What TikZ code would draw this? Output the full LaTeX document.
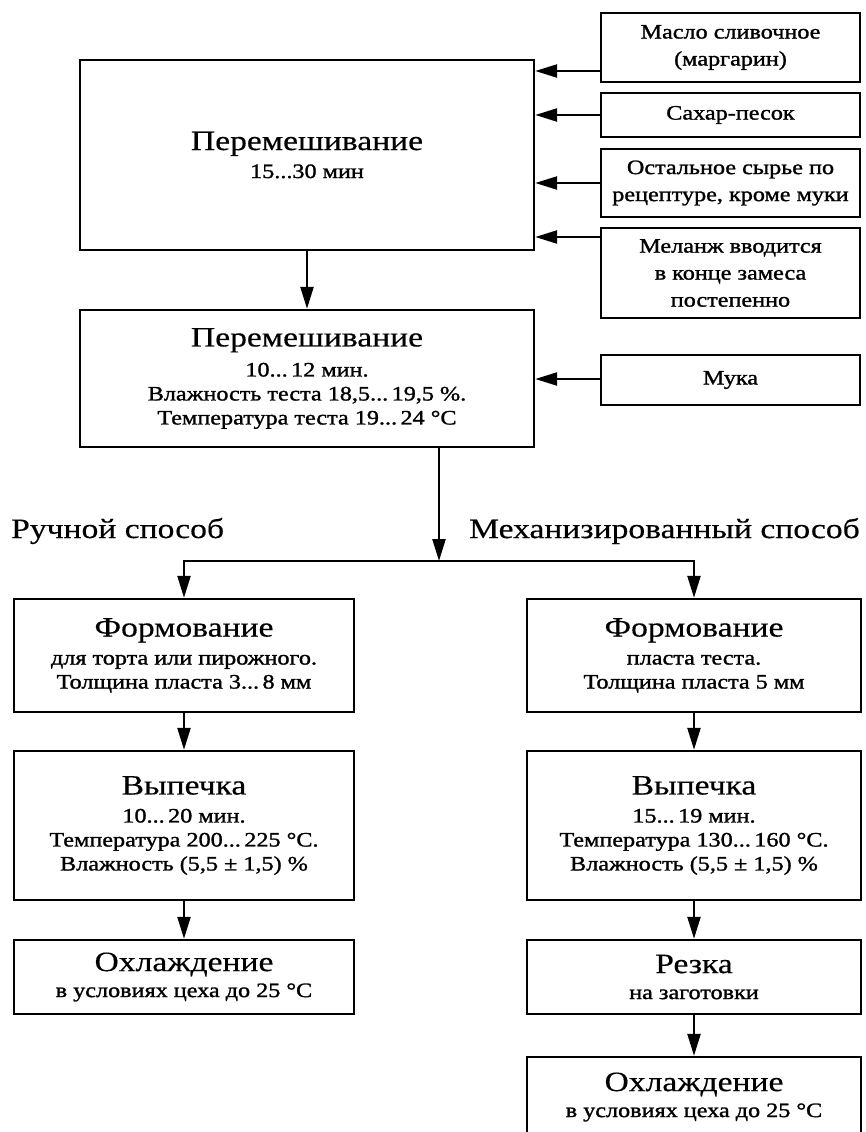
\documentclass[tikz,border=0pt]{standalone}
\usepackage{fontspec}
\setmainfont{Liberation Serif}[FakeStretch=1.2, FakeBold=0.4]
\newfontfamily\smallfont{Liberation Serif}[FakeStretch=1.18, FakeBold=1.3]
\usetikzlibrary{arrows.meta}
\newcommand\ttl[1]{{\rmfamily\fontsize{28}{30}\selectfont #1}}
\begin{document}
\begin{tikzpicture}[x=1pt,y=-1pt,
  box/.style={draw, line width=2.4pt, fill=white, inner sep=0pt, align=center,
              font=\smallfont\fontsize{20.5}{24}\selectfont},
  inbox/.style={box, minimum width=259pt, font=\smallfont\fontsize{20.5}{27}\selectfont},
  arr/.style={line width=2.4pt, -{Triangle[length=22pt,width=13pt]}},
  lbl/.style={inner sep=0pt, font=\fontsize{28}{30}\selectfont}]
\useasboundingbox (0,0) rectangle (866,1132);
% inputs
\node[inbox, minimum height=69pt] (maslo) at (730.5,47.5) {Масло сливочное\\(маргарин)};
\node[inbox, minimum height=44pt] (sahar) at (730.5,115) {Сахар-песок};
\node[inbox, minimum height=68pt] (ost) at (730.5,183) {Остальное сырье по\\рецептуре, кроме муки};
\node[inbox, minimum height=90pt] (mel) at (730.5,273) {Меланж вводится\\в конце замеса\\постепенно};
\node[inbox, minimum height=50pt] (muka) at (730.5,380) {Мука};
% mixing
\node[box, minimum width=454pt, minimum height=190pt] (b1) at (307,155)
  {\ttl{Перемешивание}\\[4pt]15...30 мин};
\node[box, minimum width=454pt, minimum height=137pt] (b2) at (307,378.5)
  {\ttl{Перемешивание}\\[6pt]10...\,12 мин.\\Влажность теста 18,5...\,19,5 \%.\\Температура теста 19...\,24 °C};
% labels
\node[lbl, anchor=west] (ruch) at (11,531) {Ручной способ};
\node[lbl, anchor=east] (mech) at (860,531) {Механизированный способ};
% left column
\node[box, minimum width=340pt, minimum height=113pt] (f1) at (184,655.5)
  {\ttl{Формование}\\[4pt]для торта или пирожного.\\Толщина пласта 3...\,8 мм};
\node[box, minimum width=340pt, minimum height=149pt] (v1) at (184,825.5)
  {\ttl{Выпечка}\\[4pt]10...\,20 мин.\\Температура 200...\,225 °C.\\Влажность (5,5 ± 1,5) \%};
\node[box, minimum width=340pt, minimum height=74pt] (o1) at (184,977)
  {\ttl{Охлаждение}\\[2pt]в условиях цеха до 25 °C};
% right column
\node[box, minimum width=334pt, minimum height=113pt] (f2) at (694,655.5)
  {\ttl{Формование}\\[4pt]пласта теста.\\Толщина пласта 5 мм};
\node[box, minimum width=334pt, minimum height=149pt] (v2) at (694,825.5)
  {\ttl{Выпечка}\\[4pt]15...\,19 мин.\\Температура 130...\,160 °C.\\Влажность (5,5 ± 1,5) \%};
\node[box, minimum width=334pt, minimum height=74pt] (r) at (694,977)
  {\ttl{Резка}\\[2pt]на заготовки};
\node[box, minimum width=334pt, minimum height=80pt] (o2) at (694,1097)
  {\ttl{Охлаждение}\\[2pt]в условиях цеха до 25 °C};
% arrow heights
\coordinate (a1) at (0,71);
\coordinate (a2) at (0,115);
\coordinate (a3) at (0,183);
\coordinate (a4) at (0,237);
\coordinate (a5) at (0,379);
\coordinate (split) at (439,561);
\draw[arr] (maslo.west |- a1) -- (b1.east |- a1);
\draw[arr] (sahar.west |- a2) -- (b1.east |- a2);
\draw[arr] (ost.west |- a3) -- (b1.east |- a3);
\draw[arr] (mel.west |- a4) -- (b1.east |- a4);
\draw[arr] (muka.west |- a5) -- (b2.east |- a5);
\draw[arr] (b1.south) -- (b2.north);
\draw[arr] (b2.south -| split) -- (split);
\draw[arr] (split) -| (f1.north);
\draw[arr] (split) -| (f2.north);
\draw[arr] (f1.south) -- (v1.north);
\draw[arr] (v1.south) -- (o1.north);
\draw[arr] (f2.south) -- (v2.north);
\draw[arr] (v2.south) -- (r.north);
\draw[arr] (r.south) -- (o2.north);
\end{tikzpicture}
\end{document}
